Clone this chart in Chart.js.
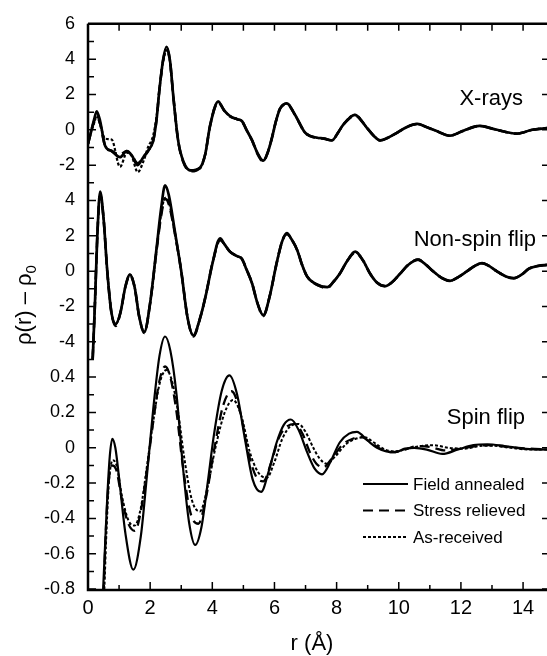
<!DOCTYPE html>
<html>
<head>
<meta charset="utf-8">
<script src="https://cdn.jsdelivr.net/npm/chart.js@4.4.1/dist/chart.umd.min.js"></script>
<style>
  html, body { margin: 0; padding: 0; background: #fff; }
  #wrap { width: 547px; height: 656px; }
</style>
</head>
<body>
<div id="wrap"><canvas id="rdfChart"></canvas></div>
<script>
// ---- X-rays panel ----
const xrayR = [0, 0.1, 0.2, 0.28, 0.39, 0.55, 0.76, 1.03, 1.25, 1.41, 1.6, 1.78, 1.93, 2.1, 2.21,
  2.3, 2.42, 2.53, 2.64, 2.75, 2.9, 3.06, 3.3, 3.6, 3.77, 3.93, 4.19, 4.38, 4.57, 4.8,
  4.95, 5.1, 5.28, 5.45, 5.64, 5.78, 5.92, 6.05, 6.18, 6.4, 6.66, 6.98, 7.15, 7.37, 7.6,
  7.85, 8.05, 8.21, 8.59, 8.98, 9.2, 9.4, 9.65, 9.94, 10.25, 10.6, 10.9, 11.2, 11.65, 12.07,
  12.6, 13.15, 13.8, 14.3, 14.77];
const xrayField = [-0.8, -0.1, 0.6, 1.05, 0.5, -0.9, -1.2, -1.55, -1.2, -1.45, -2.0, -1.55, -1.2, -0.6, 0.65,
  2.3, 4.0, 4.7, 3.9, 1.8, -0.6, -1.75, -2.3, -2.15, -1.4, 0.25, 1.6, 1.1, 0.78, 0.6,
  0.5, 0.0, -0.6, -1.3, -1.75, -1.3, -0.45, 0.5, 1.2, 1.5, 0.85, -0.15, -0.35, -0.45, -0.5,
  -0.6, -0.15, 0.28, 0.85, 0.1, -0.35, -0.6, -0.45, -0.17, 0.15, 0.33, 0.15, -0.06, -0.33, -0.06,
  0.22, 0.0, -0.22, 0.0, 0.1];
const xrayStress = [-0.8, -0.1, 0.5, 0.75, 0.35, -0.9, -1.2, -1.4, -1.2, -1.45, -1.9, -1.55, -1.2, -0.6, 0.65,
  2.3, 3.95, 4.6, 3.85, 1.8, -0.6, -1.8, -2.35, -2.15, -1.4, 0.25, 1.55, 1.1, 0.75, 0.6,
  0.5, 0.0, -0.6, -1.35, -1.8, -1.3, -0.45, 0.5, 1.2, 1.45, 0.85, -0.15, -0.35, -0.45, -0.5,
  -0.6, -0.15, 0.28, 0.8, 0.1, -0.35, -0.6, -0.45, -0.17, 0.15, 0.33, 0.15, -0.06, -0.33, -0.06,
  0.22, 0.0, -0.22, 0.0, 0.1];
const xrayAsRec = [-0.8, -0.1, 0.4, 0.8, 0.3, -0.5, -0.55, -2.1, -1.3, -1.5, -2.4, -1.8, -1.0, -0.3, 0.8,
  2.3, 3.9, 4.5, 3.8, 1.8, -0.6, -1.75, -2.3, -2.2, -1.4, 0.25, 1.6, 1.1, 0.78, 0.6,
  0.5, 0.0, -0.6, -1.3, -1.75, -1.3, -0.45, 0.5, 1.2, 1.5, 0.85, -0.15, -0.35, -0.45, -0.5,
  -0.6, -0.15, 0.28, 0.85, 0.1, -0.35, -0.6, -0.45, -0.17, 0.15, 0.33, 0.15, -0.06, -0.33, -0.06,
  0.22, 0.0, -0.22, 0.0, 0.1];

// ---- Non-spin flip panel ----
const nsfR = [0.15, 0.22, 0.3, 0.39, 0.5, 0.62, 0.75, 0.89, 1.05, 1.2, 1.35, 1.5, 1.65, 1.81, 2.0,
  2.2, 2.35, 2.48, 2.6, 2.8, 3.0, 3.2, 3.39, 3.6, 3.8, 4.0, 4.25, 4.4, 4.57, 4.8,
  4.95, 5.1, 5.28, 5.45, 5.64, 5.85, 6.07, 6.25, 6.4, 6.55, 6.73, 6.9, 7.05, 7.3, 7.7,
  7.9, 8.1, 8.35, 8.6, 8.85, 9.08, 9.3, 9.56, 9.8, 10.04, 10.3, 10.62, 10.85, 11.1, 11.4,
  11.65, 11.9, 12.2, 12.45, 12.68, 12.9, 13.15, 13.45, 13.7, 13.95, 14.2, 14.5, 14.77];
const nsfField = [-5.0, -2.0, 2.0, 4.5, 3.0, 0.0, -2.3, -3.0, -2.3, -0.9, -0.2, -0.9, -2.6, -3.45, -1.8,
  1.2, 3.5, 4.85, 4.3, 2.2, 0.0, -2.6, -3.65, -2.7, -1.3, 0.4, 1.85, 1.5, 1.1, 0.85,
  0.7, 0.1, -0.7, -1.8, -2.5, -1.4, 0.45, 1.7, 2.15, 1.8, 1.2, 0.3, -0.3, -0.7, -0.9,
  -0.6, -0.15, 0.6, 1.1, 0.6, -0.15, -0.65, -0.85, -0.6, -0.15, 0.35, 0.65, 0.4, 0.0, -0.4,
  -0.55, -0.35, 0.0, 0.3, 0.45, 0.3, 0.0, -0.3, -0.4, -0.2, 0.15, 0.3, 0.35];
const nsfStress = [-5.0, -2.0, 2.0, 4.3, 3.0, 0.0, -2.3, -3.1, -2.3, -0.9, -0.25, -0.9, -2.6, -3.5, -1.8,
  1.1, 3.1, 4.1, 3.8, 2.1, 0.0, -2.6, -3.7, -2.7, -1.3, 0.4, 1.75, 1.5, 1.1, 0.85,
  0.7, 0.1, -0.7, -1.8, -2.55, -1.4, 0.45, 1.7, 2.1, 1.8, 1.2, 0.3, -0.3, -0.7, -0.95,
  -0.6, -0.15, 0.6, 1.05, 0.6, -0.15, -0.65, -0.85, -0.6, -0.15, 0.35, 0.65, 0.4, 0.0, -0.4,
  -0.55, -0.35, 0.0, 0.3, 0.45, 0.3, 0.0, -0.3, -0.4, -0.2, 0.15, 0.3, 0.35];
const nsfAsRec = [-5.0, -2.0, 2.0, 4.4, 3.0, 0.0, -2.3, -3.0, -2.3, -0.9, -0.2, -0.9, -2.6, -3.45, -1.8,
  1.1, 3.2, 4.15, 3.9, 2.1, 0.0, -2.6, -3.65, -2.7, -1.3, 0.4, 1.8, 1.5, 1.1, 0.85,
  0.7, 0.1, -0.7, -1.8, -2.5, -1.4, 0.45, 1.7, 2.1, 1.8, 1.2, 0.3, -0.3, -0.7, -0.9,
  -0.6, -0.15, 0.6, 1.1, 0.6, -0.15, -0.65, -0.85, -0.6, -0.15, 0.35, 0.65, 0.4, 0.0, -0.4,
  -0.55, -0.35, 0.0, 0.3, 0.45, 0.3, 0.0, -0.3, -0.4, -0.2, 0.15, 0.3, 0.35];

// ---- Spin flip panel ----
const sfFieldR = [0.48, 0.55, 0.62, 0.7, 0.78, 0.88, 1.0, 1.2, 1.46, 1.7, 1.9, 2.1, 2.3, 2.48, 2.65,
  2.85, 3.05, 3.25, 3.45, 3.65, 3.85, 4.05, 4.3, 4.55, 4.8, 5.05, 5.3, 5.57, 5.82, 6.07,
  6.3, 6.53, 6.78, 7.04, 7.3, 7.53, 7.8, 8.1, 8.4, 8.65, 9.0, 9.3, 9.6, 9.9, 10.2,
  10.5, 10.9, 11.4, 11.9, 12.4, 12.85, 13.4, 14.0, 14.77];
const sfField = [-0.83, -0.55, -0.28, -0.05, 0.05, 0.0, -0.17, -0.48, -0.69, -0.5, -0.15, 0.22, 0.52, 0.63, 0.55,
  0.3, -0.1, -0.42, -0.55, -0.45, -0.2, 0.07, 0.32, 0.41, 0.3, 0.05, -0.18, -0.25, -0.13, 0.03,
  0.13, 0.16, 0.1, -0.02, -0.12, -0.15, -0.08, 0.03, 0.08, 0.09, 0.04, 0.0, -0.02, -0.025, -0.005,
  0.0, -0.01, -0.035, -0.01, 0.015, 0.02, 0.01, -0.005, -0.01];
const sfStressR = [0.5, 0.58, 0.66, 0.77, 0.9, 1.1, 1.3, 1.51, 1.7, 1.9, 2.1, 2.3, 2.48, 2.65, 2.85,
  3.05, 3.3, 3.55, 3.8, 4.05, 4.35, 4.62, 4.9, 5.15, 5.4, 5.64, 5.9, 6.15, 6.4, 6.66,
  6.9, 7.15, 7.35, 7.57, 7.85, 8.2, 8.5, 8.8, 9.1, 9.45, 9.8, 10.2, 10.6, 11.0, 11.5,
  12.0, 12.5, 12.9, 13.5, 14.2, 14.77];
const sfStress = [-0.83, -0.45, -0.2, -0.1, -0.12, -0.3, -0.43, -0.47, -0.36, -0.12, 0.15, 0.38, 0.46, 0.4, 0.2,
  -0.1, -0.37, -0.43, -0.28, -0.02, 0.24, 0.32, 0.2, -0.02, -0.16, -0.19, -0.08, 0.06, 0.12, 0.135,
  0.08, -0.03, -0.09, -0.11, -0.06, 0.02, 0.05, 0.06, 0.03, -0.01, -0.025, -0.01, 0.01, 0.005, -0.015,
  -0.005, 0.01, 0.015, 0.005, -0.005, -0.01];
const sfAsRecR = [0.52, 0.6, 0.68, 0.8, 0.92, 1.1, 1.3, 1.5, 1.7, 1.9, 2.1, 2.3, 2.52, 2.7, 2.9,
  3.1, 3.35, 3.6, 3.85, 4.1, 4.4, 4.67, 4.95, 5.2, 5.48, 5.75, 6.0, 6.25, 6.5, 6.77,
  7.0, 7.25, 7.45, 7.68, 7.95, 8.3, 8.6, 8.9, 9.2, 9.55, 9.9, 10.3, 10.7, 11.1, 11.6,
  12.1, 12.6, 13.0, 13.6, 14.2, 14.77];
const sfAsRec = [-0.83, -0.45, -0.18, -0.07, -0.1, -0.28, -0.41, -0.44, -0.34, -0.1, 0.15, 0.36, 0.44, 0.38, 0.2,
  -0.06, -0.3, -0.36, -0.22, 0.0, 0.2, 0.27, 0.17, -0.02, -0.14, -0.17, -0.08, 0.05, 0.12, 0.135,
  0.09, 0.0, -0.06, -0.09, -0.05, 0.02, 0.05, 0.06, 0.03, -0.01, -0.02, -0.005, 0.01, 0.015, 0.0,
  -0.005, 0.01, 0.012, 0.0, -0.01, -0.01];

// ---- axis ticks ----
const xTicks = [0, 2, 4, 6, 8, 10, 12, 14];
const topTicks = [6, 4, 2, 0, -2];
const nsfTicks = [4, 2, 0, -2, -4];
const sfTicks = [0.4, 0.2, 0, -0.2, -0.4, -0.6, -0.8];

// the three panels share one y axis: middle panel is shifted down by 8,
// spin flip panel is magnified x10 and shifted down by 18
const toMid = v => v - 8;
const toSpin = v => v * 10 - 18;

const yTickVals = [...topTicks, ...nsfTicks.map(toMid), ...sfTicks.map(toSpin)];
const yTickText = [...topTicks.map(String), ...nsfTicks.map(String),
  ...sfTicks.map(v => v === 0 ? '0' : v.toFixed(1))];

const FONT = "'Liberation Sans', Arial, Helvetica, sans-serif";

const pts = (rs, vs, f) => rs.map((r, i) => ({ x: r, y: f ? f(vs[i]) : vs[i] }));

const SOLID = [];
const DASH = [10, 6];
const DOT = [3, 2];

function line(data, dash, width) {
    return {
        data: data,
        borderColor: '#000',
        borderWidth: width,
        borderDash: dash,
        pointRadius: 0,
        fill: false,
        cubicInterpolationMode: 'monotone'
    };
}

const frame = {
    id: 'frame',
    afterDraw(chart) {
        const { ctx, chartArea: a, scales: { x, y } } = chart;
        ctx.save();
        ctx.strokeStyle = '#000';
        ctx.lineWidth = 2.5;
        ctx.beginPath();
        ctx.moveTo(a.left, a.top);
        ctx.lineTo(a.right, a.top);
        ctx.moveTo(a.left, a.top);
        ctx.lineTo(a.left, a.bottom);
        ctx.lineTo(a.right, a.bottom);
        ctx.stroke();

        // inward ticks
        ctx.lineWidth = 1.5;
        ctx.beginPath();
        for (let r = 0; r <= 14; r++) {
            const px = x.getPixelForValue(r);
            const len = r % 2 === 0 ? 8 : 5;
            ctx.moveTo(px, a.bottom);
            ctx.lineTo(px, a.bottom - len);
            ctx.moveTo(px, a.top);
            ctx.lineTo(px, a.top + 7);
        }
        for (let v = 6; v >= -26; v--) {
            const py = y.getPixelForValue(v);
            const len = yTickVals.includes(v) ? 8 : 6;
            ctx.moveTo(a.left, py);
            ctx.lineTo(a.left + len, py);
            if (v % 2 === 0) {
                ctx.moveTo(a.right, py);
                ctx.lineTo(a.right - 5, py);
            }
        }
        ctx.stroke();

        // panel labels
        ctx.fillStyle = '#000';
        ctx.font = '22px ' + FONT;
        ctx.textAlign = 'right';
        ctx.textBaseline = 'middle';
        ctx.fillText('X-rays', 523, 99);
        ctx.fillText('Non-spin flip', 536, 240);
        ctx.fillText('Spin flip', 525, 418);

        // legend
        const rows = [['Field annealed', SOLID, 2.2], ['Stress relieved', DASH, 2.2], ['As-received', DOT, 1.8]];
        ctx.font = '17px ' + FONT;
        ctx.textAlign = 'left';
        rows.forEach(([label, dash, w], i) => {
            const ly = 484 + i * 26.5;
            ctx.lineWidth = w;
            ctx.setLineDash(dash);
            ctx.beginPath();
            ctx.moveTo(363, ly);
            ctx.lineTo(408, ly);
            ctx.stroke();
            ctx.setLineDash([]);
            ctx.fillText(label, 413, ly + 1);
        });

        // axis titles
        ctx.font = '22px ' + FONT;
        ctx.textAlign = 'center';
        ctx.textBaseline = 'alphabetic';
        ctx.fillText('r (\u00C5)', 312, 650);

        ctx.translate(31, 305);
        ctx.rotate(-Math.PI / 2);
        const main = '\u03C1(r) \u2013 \u03C1';
        const wMain = ctx.measureText(main).width;
        ctx.font = '15px ' + FONT;
        const wSub = ctx.measureText('0').width;
        const start = -(wMain + wSub) / 2;
        ctx.textAlign = 'left';
        ctx.font = '22px ' + FONT;
        ctx.fillText(main, start, 0);
        ctx.font = '15px ' + FONT;
        ctx.fillText('0', start + wMain, 5);
        ctx.restore();
    }
};

new Chart(document.getElementById('rdfChart'), {
    type: 'line',
    data: {
        datasets: [
            line(pts(xrayR, xrayAsRec), DOT, 2.2),
            line(pts(xrayR, xrayStress), DASH, 2.6),
            line(pts(xrayR, xrayField), SOLID, 2.7),
            line(pts(nsfR, nsfAsRec, toMid), DOT, 2.2),
            line(pts(nsfR, nsfStress, toMid), DASH, 2.6),
            line(pts(nsfR, nsfField, toMid), SOLID, 2.7),
            line(pts(sfAsRecR, sfAsRec, toSpin), DOT, 2),
            line(pts(sfStressR, sfStress, toSpin), DASH, 2.3),
            line(pts(sfFieldR, sfField, toSpin), SOLID, 2.2)
        ]
    },
    options: {
        responsive: true,
        maintainAspectRatio: false,
        animation: false,
        layout: { padding: { top: 15, right: 0, left: 0, bottom: 0 } },
        plugins: {
            legend: { display: false },
            tooltip: { enabled: false }
        },
        scales: {
            x: {
                type: 'linear',
                min: 0,
                max: 14.77,
                afterFit: s => { s.height = 66; },
                afterBuildTicks: s => { s.ticks = xTicks.map(v => ({ value: v })); },
                grid: { display: false, drawTicks: false },
                border: { display: false },
                ticks: {
                    color: '#000',
                    font: { family: FONT, size: 20 },
                    padding: 6,
                    maxRotation: 0,
                    autoSkip: false
                }
            },
            y: {
                type: 'linear',
                min: -26.05,
                max: 6,
                afterFit: s => { s.width = 88; },
                afterBuildTicks: s => { s.ticks = yTickVals.map(v => ({ value: v })); },
                grid: { display: false, drawTicks: false },
                border: { display: false },
                ticks: {
                    color: '#000',
                    font: { family: FONT, size: 18 },
                    padding: 13,
                    autoSkip: false,
                    callback: (v, i) => yTickText[i]
                }
            }
        }
    },
    plugins: [frame]
});
</script>
</body>
</html>
